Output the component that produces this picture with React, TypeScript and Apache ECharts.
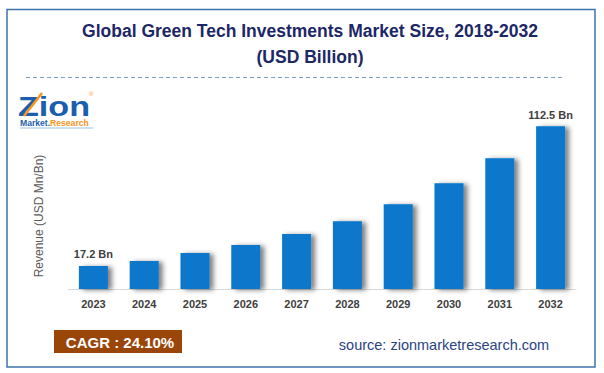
import React, { useEffect, useRef } from "react";
import * as echarts from "echarts";

const categories = ["2023", "2024", "2025", "2026", "2027", "2028", "2029", "2030", "2031", "2032"];
const revenue = [17.2, 20.6, 26.0, 31.5, 39.0, 47.8, 59.4, 73.7, 90.7, 112.5];
const titleLines = ["Global Green Tech Investments Market Size, 2018-2032", "(USD Billion)"];
const yAxisTitle = "Revenue (USD Mn/Bn)";
const cagrText = "CAGR : 24.10%";
const sourceText = "source: zionmarketresearch.com";

const FONT = "'Liberation Sans', Arial, sans-serif";

export default function App() {
  const ref = useRef<HTMLDivElement>(null);

  useEffect(() => {
    document.body.style.margin = "0";
    if (!ref.current) return;
    const chart = echarts.init(ref.current, null, { renderer: "svg" });
    const last = revenue.length - 1;
    chart.setOption({
      animation: false,
      backgroundColor: "#ffffff",
      textStyle: { fontFamily: FONT },
      grid: { left: 68, right: 28, top: 108, bottom: 84 },
      xAxis: {
        type: "category",
        data: categories,
        axisLine: { show: true, lineStyle: { color: "#D9D9D9", width: 1 } },
        axisTick: { show: false },
        axisLabel: { color: "#404040", fontSize: 11, fontWeight: "bold", margin: 9, fontFamily: FONT },
      },
      yAxis: {
        type: "value",
        min: 1.5,
        max: 125,
        show: false,
        splitLine: { show: false },
      },
      series: [
        {
          type: "bar",
          data: revenue,
          barWidth: 29,
          itemStyle: {
            color: "#0877CC",
            shadowColor: "rgba(0,0,0,0.5)",
            shadowBlur: 5,
            shadowOffsetX: 4,
            shadowOffsetY: 1,
          },
          label: {
            show: true,
            position: "top",
            distance: 6,
            color: "#404040",
            fontSize: 11,
            fontWeight: "bold",
            fontFamily: FONT,
            formatter: (p: any) => (p.dataIndex === 0 || p.dataIndex === last ? `${p.value} Bn` : ""),
          },
        },
      ],
      graphic: [
        {
          type: "rect",
          shape: { x: 7, y: 9.5, width: 588, height: 357.5 },
          style: { fill: "none", stroke: "#3F72AC", lineWidth: 1.5 },
          silent: true,
        },
        {
          type: "text",
          x: 310,
          y: 31,
          style: {
            text: titleLines[0],
            fill: "#1D2766",
            font: `bold 17.5px ${FONT}`,
            textAlign: "center",
            textVerticalAlign: "middle",
          },
        },
        {
          type: "text",
          x: 310,
          y: 57,
          style: {
            text: titleLines[1],
            fill: "#1D2766",
            font: `bold 17.5px ${FONT}`,
            textAlign: "center",
            textVerticalAlign: "middle",
          },
        },
        {
          type: "line",
          shape: { x1: 26, y1: 77.5, x2: 563, y2: 77.5 },
          style: { stroke: "#7B9BC8", lineWidth: 1, lineDash: [4, 3] },
        },
        // logo
        {
          type: "group",
          children: [
            {
              type: "text",
              x: 18,
              y: 93,
              scaleX: 1.22,
              style: { text: "Zion", fill: "#1B5EAE", font: `bold 28px ${FONT}` },
            },
            {
              type: "line",
              shape: { x1: 24, y1: 116, x2: 42, y2: 93 },
              style: { stroke: "#F7941D", lineWidth: 2.5 },
            },
            {
              type: "text",
              x: 89,
              y: 91,
              style: { text: "®", fill: "#F7941D", font: `6px ${FONT}` },
            },
            {
              type: "text",
              x: 20,
              y: 118,
              style: {
                text: "{a|Market.}{b|Research}",
                rich: {
                  a: { fill: "#1B5EAE", font: `bold 8.6px ${FONT}` },
                  b: { fill: "#F7941D", font: `bold 8.6px ${FONT}` },
                },
              },
            },
            {
              type: "line",
              shape: { x1: 20, y1: 128, x2: 93, y2: 128 },
              style: { stroke: "#9CC3E6", lineWidth: 1 },
            },
          ],
        },
        {
          type: "text",
          x: 39,
          y: 216,
          rotation: Math.PI / 2,
          style: {
            text: yAxisTitle,
            fill: "#595959",
            font: `12px ${FONT}`,
            textAlign: "center",
            textVerticalAlign: "middle",
          },
        },
        {
          type: "rect",
          shape: { x: 54, y: 330, width: 128, height: 23 },
          style: { fill: "#9A4609" },
        },
        {
          type: "text",
          x: 120,
          y: 342,
          style: {
            text: cagrText,
            fill: "#ffffff",
            font: `bold 15px ${FONT}`,
            textAlign: "center",
            textVerticalAlign: "middle",
          },
        },
        {
          type: "text",
          x: 444,
          y: 345,
          style: {
            text: sourceText,
            fill: "#2A4385",
            font: `14.5px ${FONT}`,
            textAlign: "center",
            textVerticalAlign: "middle",
          },
        },
      ],
    });
    return () => chart.dispose();
  }, []);

  return <div ref={ref} style={{ width: 604, height: 373 }} />;
}
